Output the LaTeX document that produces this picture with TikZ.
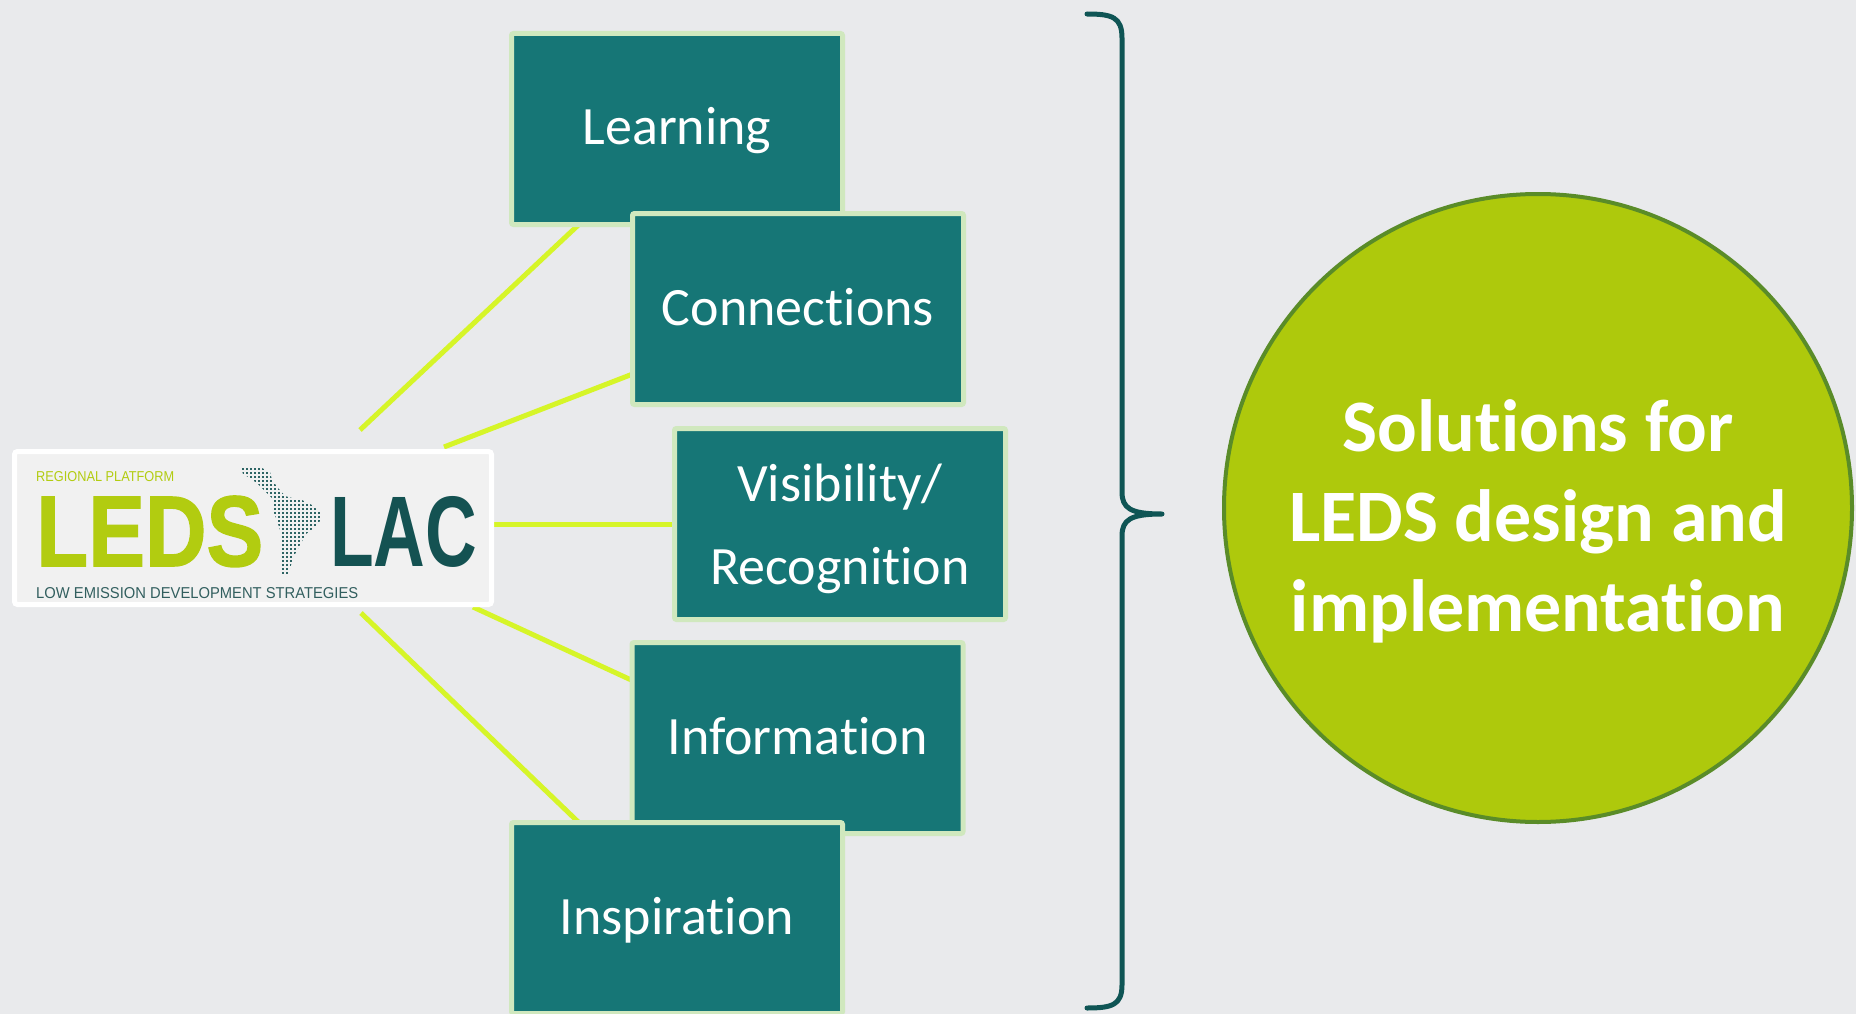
\documentclass[tikz,border=0pt]{standalone}
\usepackage{fontspec}
\setmainfont{Carlito}[Ligatures={NoCommon,NoRequired,NoContextual}]
\newfontfamily\logofont{Liberation Sans}
\newfontfamily\ledsfont{Liberation Sans}[BoldFeatures={FakeBold=1.5}]
\usetikzlibrary{calc}
\definecolor{bgcol}{RGB}{233,234,236}
\definecolor{boxfill}{RGB}{22,118,118}
\definecolor{boxedge}{RGB}{208,232,190}
\definecolor{linkcol}{RGB}{214,245,40}
\definecolor{ledsgreen}{RGB}{178,204,16}
\definecolor{lacteal}{RGB}{20,82,82}
\definecolor{lowteal}{RGB}{50,95,95}
\definecolor{mapcol}{RGB}{45,100,100}
\definecolor{circfill}{RGB}{174,201,12}
\definecolor{circedge}{RGB}{90,140,40}
\definecolor{bracecol}{RGB}{15,85,85}
\definecolor{logofill}{RGB}{241,241,241}
\pgfdeclarelayer{back}
\pgfdeclarelayer{links}
\pgfsetlayers{back,links,main}
\begin{document}
\begin{tikzpicture}[x=1pt,y=-1pt,
  topicbox/.style={draw=boxedge, line width=5pt, fill=boxfill, rounded corners=2pt,
    minimum width=331pt, minimum height=191pt, inner sep=0pt, text=white,
    font=\fontsize{54}{64}\selectfont, text height=40pt, text depth=8pt},
  topictext/.style={text=white, align=center, inner sep=0pt, font=\fontsize{54}{83}\selectfont},
  link/.style={draw=linkcol, line width=5pt, shorten >=-8pt},
  logotext/.style={anchor=base west, inner sep=0pt},
]
\useasboundingbox (0,0) rectangle (1856,1014);
\begin{pgfonlayer}{back}
  \fill[bgcol] (0,0) rectangle (1856,1014);
\end{pgfonlayer}

% logo
\node[draw=white, line width=5pt, fill=logofill, rounded corners=3pt,
      minimum width=477pt, minimum height=153pt, inner sep=0pt] (logo) at (253,528) {};
\node[logotext, text=ledsgreen] (regp) at (36,481) {\resizebox{138pt}{10pt}{\logofont REGIONAL PLATFORM}};
\node[logotext, text=ledsgreen] (leds) at (36,566) {\resizebox{227pt}{70pt}{\ledsfont\bfseries LEDS}};
\node[logotext, text=lacteal] (lac) at (330,566) {\resizebox{147pt}{70pt}{\logofont\bfseries LAC}};
\node[logotext, text=lowteal] (lowem) at (36,598) {\resizebox{322pt}{11pt}{\logofont LOW EMISSION DEVELOPMENT STRATEGIES}};
\begin{scope}
  \clip (241,468) -- (252,466) -- (262,468) -- (270,472) -- (272,480) -- (278,488) -- (285,496)
    -- (292,498) -- (302,500) -- (312,505) -- (320,512) -- (321,520) -- (314,528) -- (306,534)
    -- (300,545) -- (294,556) -- (290,568) -- (287,576) -- (282,574) -- (281,560) -- (281,545)
    -- (280,530) -- (276,518) -- (272,508) -- (274,500) -- (266,492) -- (258,484) -- (250,478)
    -- (243,474) -- cycle;
  \foreach \xx in {238,242,...,322} {
    \foreach \yy in {464,468,...,580} {
      \fill[mapcol] (\xx,\yy) rectangle ++(2.3,2.3);
    }
  }
\end{scope}

% topic boxes
\node[topicbox] (learn) at (677,129) {Learning};
\node[topicbox] (conn) at (798,309) {Connections};
\node[topicbox] (vis) at (840,524) {};
\node[topictext] (vistext) at ($(vis.center)+(0,5)$) {Visibility/\\Recognition};
\node[topicbox] (info) at (797.5,738) {Information};
\node[topicbox] (insp) at (677,918) {Inspiration};

% connectors
\coordinate (s1) at (360,430);
\coordinate (s2) at (444,447);
\coordinate (s3) at (logo.east |- vis.west);
\coordinate (s4) at (473,607);
\coordinate (s5) at (361,613);
\begin{pgfonlayer}{links}
  \draw[link] (s1) -- ($(learn.south west)!0.2!(learn.south east)$);
  \draw[link] (s2) -- ($(conn.north west)!0.837!(conn.south west)$);
  \draw[link] (s3) -- (vis.west);
  \draw[link] (s4) -- ($(info.north west)!0.2!(info.south west)$);
  \draw[link] (s5) -- ($(insp.north west)!0.2!(insp.north east)$);
\end{pgfonlayer}

% brace
\draw[bracecol, line width=5pt, line cap=round, line join=round]
  (1087,14) .. controls (1112,14) and (1122,17) .. (1122,38) -- (1122,492)
  .. controls (1122,508) and (1130,514) .. (1162,514)
  .. controls (1130,514) and (1122,520) .. (1122,536) -- (1122,985)
  .. controls (1122,1005) and (1112,1008) .. (1087,1008);

% result circle
\node[circle, draw=circedge, line width=4pt, fill=circfill, minimum size=628pt, inner sep=0pt] (sol) at (1538,508) {};
\node[text=white, align=center, inner sep=0pt, font=\fontsize{74}{90}\selectfont\bfseries] (soltext)
  at ($(sol.center)+(0,13)$) {Solutions for\\LEDS design and\\implementation};
\end{tikzpicture}
\end{document}
